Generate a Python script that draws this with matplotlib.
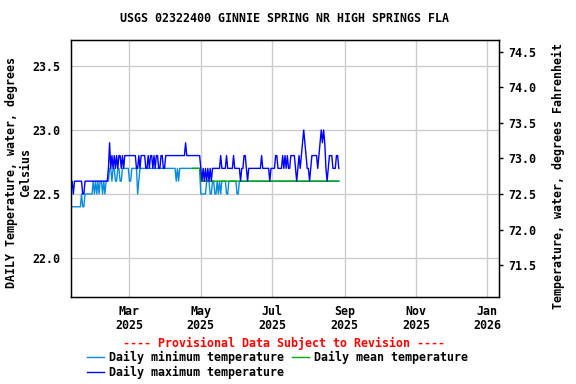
import pandas as pd
import matplotlib
matplotlib.use('Agg')
import matplotlib.pyplot as plt
import matplotlib.dates as mdates
from matplotlib.lines import Line2D

plt.rcParams['font.family'] = 'DejaVu Sans Mono'
plt.rcParams['font.weight'] = 'bold'
plt.rcParams['font.size'] = 8.4

# daily values (deg C), starting 2025-01-10
start_date = '2025-01-10'
max_t = [
    22.6, 22.6, 22.5, 22.6, 22.6, 22.6, 22.6, 22.6, 22.6, 22.6,
    22.5, 22.5, 22.6, 22.6, 22.6, 22.6, 22.6, 22.6, 22.6, 22.6,
    22.6, 22.6, 22.6, 22.6, 22.6, 22.6, 22.6, 22.6, 22.6, 22.6,
    22.6, 22.6, 22.7, 22.9, 22.7, 22.8, 22.7, 22.8, 22.7, 22.8,
    22.7, 22.8, 22.8, 22.7, 22.8, 22.7, 22.8, 22.8, 22.8, 22.8,
    22.8, 22.8, 22.8, 22.8, 22.8, 22.8, 22.7, 22.7, 22.8, 22.7,
    22.8, 22.8, 22.8, 22.8, 22.7, 22.7, 22.8, 22.7, 22.8, 22.8,
    22.7, 22.8, 22.7, 22.8, 22.8, 22.7, 22.7, 22.8, 22.8, 22.7,
    22.7, 22.8, 22.8, 22.8, 22.8, 22.8, 22.8, 22.8, 22.8, 22.8,
    22.8, 22.8, 22.8, 22.8, 22.8, 22.8, 22.8, 22.8, 22.9, 22.8,
    22.8, 22.8, 22.8, 22.8, 22.8, 22.8, 22.8, 22.8, 22.8, 22.8,
    22.8, 22.7, 22.6, 22.7, 22.6, 22.7, 22.6, 22.7, 22.6, 22.7,
    22.6, 22.7, 22.7, 22.7, 22.7, 22.7, 22.7, 22.7, 22.8, 22.7,
    22.7, 22.7, 22.7, 22.8, 22.7, 22.7, 22.7, 22.7, 22.7, 22.8,
    22.7, 22.7, 22.7, 22.7, 22.7, 22.6, 22.7, 22.7, 22.8, 22.8,
    22.7, 22.6, 22.7, 22.7, 22.7, 22.7, 22.7, 22.7, 22.7, 22.7,
    22.7, 22.7, 22.7, 22.8, 22.7, 22.7, 22.7, 22.7, 22.7, 22.7,
    22.6, 22.7, 22.7, 22.7, 22.7, 22.8, 22.8, 22.7, 22.7, 22.7,
    22.7, 22.8, 22.7, 22.8, 22.7, 22.8, 22.7, 22.7, 22.8, 22.8,
    22.8, 22.8, 22.7, 22.6, 22.7, 22.8, 22.7, 22.8, 22.9, 23.0,
    22.9, 22.8, 22.7, 22.7, 22.6, 22.7, 22.8, 22.8, 22.8, 22.8,
    22.8, 22.7, 22.8, 22.9, 23.0, 22.9, 23.0, 22.9, 22.7, 22.6,
    22.7, 22.8, 22.8, 22.8, 22.7, 22.7, 22.7, 22.8, 22.8, 22.7,
]
min_t = [
    22.4, 22.4, 22.4, 22.4, 22.4, 22.4, 22.4, 22.4, 22.4, 22.5,
    22.4, 22.4, 22.5, 22.5, 22.5, 22.5, 22.5, 22.5, 22.5, 22.6,
    22.5, 22.6, 22.5, 22.6, 22.5, 22.6, 22.6, 22.5, 22.6, 22.5,
    22.6, 22.6, 22.6, 22.7, 22.7, 22.6, 22.7, 22.7, 22.6, 22.6,
    22.7, 22.7, 22.6, 22.6, 22.7, 22.7, 22.7, 22.7, 22.7, 22.7,
    22.6, 22.6, 22.7, 22.7, 22.7, 22.7, 22.7, 22.5, 22.6, 22.7,
    22.7, 22.7, 22.7, 22.7, 22.7, 22.7, 22.7, 22.7, 22.7, 22.7,
    22.7, 22.7, 22.7, 22.7, 22.7, 22.7, 22.7, 22.7, 22.7, 22.7,
    22.7, 22.7, 22.7, 22.7, 22.7, 22.7, 22.7, 22.7, 22.7, 22.7,
    22.6, 22.7, 22.6, 22.7, 22.7, 22.7, 22.7, 22.7, 22.7, 22.7,
    22.7, 22.7, 22.7, 22.7, 22.7, 22.7, 22.7, 22.7, 22.7, 22.7,
    22.7, 22.5, 22.5, 22.5, 22.5, 22.5, 22.6, 22.6, 22.6, 22.5,
    22.5, 22.6, 22.6, 22.5, 22.5, 22.6, 22.5, 22.6, 22.5, 22.6,
    22.6, 22.6, 22.6, 22.5, 22.5, 22.6, 22.6, 22.6, 22.6, 22.6,
    22.6, 22.6, 22.5, 22.5, 22.6, 22.6, 22.6, 22.6, 22.6, 22.6,
    22.6, 22.6, 22.6, 22.6, 22.6, 22.6, 22.6, 22.6, 22.6, 22.6,
    22.6, 22.6, 22.6, 22.6, 22.6, 22.6, 22.6, 22.6, 22.6, 22.6,
    22.6, 22.6, 22.6, 22.6, 22.6, 22.6, 22.6, 22.6, 22.6, 22.6,
    22.6, 22.6, 22.6, 22.6, 22.6, 22.6, 22.6, 22.6, 22.6, 22.6,
    22.6, 22.6, 22.6, 22.6, 22.6, 22.6, 22.6, 22.6, 22.6, 22.6,
    22.6, 22.6, 22.6, 22.6, 22.6, 22.6, 22.6, 22.6, 22.6, 22.6,
    22.6, 22.6, 22.6, 22.6, 22.6, 22.6, 22.6, 22.6, 22.6, 22.6,
    22.6, 22.6, 22.6, 22.6, 22.6, 22.6, 22.6, 22.6, 22.6, 22.6,
]
# mean only reported from late April
mean_start = '2025-04-24'
mean_t = [
    22.7, 22.7, 22.7, 22.7, 22.7, 22.7, 22.7, 22.6, 22.6, 22.6,
    22.6, 22.6, 22.6, 22.6, 22.6, 22.6, 22.6, 22.6, 22.6, 22.6,
    22.6, 22.6, 22.6, 22.6, 22.6, 22.6, 22.6, 22.6, 22.6, 22.6,
    22.6, 22.6, 22.6, 22.6, 22.6, 22.6, 22.6, 22.6, 22.6, 22.6,
    22.6, 22.6, 22.6, 22.6, 22.6, 22.6, 22.6, 22.6, 22.6, 22.6,
    22.6, 22.6, 22.6, 22.6, 22.6, 22.6, 22.6, 22.6, 22.6, 22.6,
    22.6, 22.6, 22.6, 22.6, 22.6, 22.6, 22.6, 22.6, 22.6, 22.6,
    22.6, 22.6, 22.6, 22.6, 22.6, 22.6, 22.6, 22.6, 22.6, 22.6,
    22.6, 22.6, 22.6, 22.6, 22.6, 22.6, 22.6, 22.6, 22.6, 22.6,
    22.6, 22.6, 22.6, 22.6, 22.6, 22.6, 22.6, 22.6, 22.6, 22.6,
    22.6, 22.6, 22.6, 22.6, 22.6, 22.6, 22.6, 22.6, 22.6, 22.6,
    22.6, 22.6, 22.6, 22.6, 22.6, 22.6, 22.6, 22.6, 22.6, 22.6,
    22.6, 22.6, 22.6, 22.6, 22.6, 22.6,
]
c_ticks = [22.0, 22.5, 23.0, 23.5]
f_ticks = [71.5, 72.0, 72.5, 73.0, 73.5, 74.0, 74.5]

c_min_col = '#0a8cdc'
c_mean_col = '#00a800'
c_max_col = '#0000ff'

W, H = 576, 384
fig = plt.figure(figsize=(W / 100, H / 100), dpi=100)
ax = fig.add_axes([71 / W, 1 - 297 / H, 428 / W, 257 / H])

dates = pd.date_range(start_date, periods=len(max_t), freq='D')
mean_dates = pd.date_range(mean_start, periods=len(mean_t), freq='D')

ax.plot(dates, min_t, color=c_min_col, lw=1.0)
ax.plot(mean_dates, mean_t, color=c_mean_col, lw=1.0)
ax.plot(dates, max_t, color=c_max_col, lw=1.0)

ax.set_xlim(pd.Timestamp('2025-01-10'), pd.Timestamp('2026-01-11'))
ylo, yhi = 21.695, 23.703
ax.set_ylim(ylo, yhi)
ax.set_yticks(c_ticks)
ax.set_yticklabels(['%.1f' % v for v in c_ticks])
ax.xaxis.set_major_locator(mdates.MonthLocator(bymonth=[1, 3, 5, 7, 9, 11]))
ax.xaxis.set_major_formatter(mdates.DateFormatter('%b\n%Y'))
ax.grid(True, color='#cccccc', lw=1.0)
ax.set_axisbelow(True)
ax.tick_params(axis='y', length=0, pad=8)
ax.tick_params(axis='x', length=0, pad=6)
for lab in ax.get_xticklabels():
    lab.set_linespacing(1.05)
for s in ax.spines.values():
    s.set_linewidth(1.0)

ax2 = ax.twinx()
ax2.set_ylim(ylo * 1.8 + 32, yhi * 1.8 + 32)
ax2.set_yticks(f_ticks)
ax2.set_yticklabels(['%.1f' % v for v in f_ticks])
ax2.tick_params(axis='y', length=3, width=1, pad=4)

fig.text(285 / W, 1 - 19 / H, 'USGS 02322400 GINNIE SPRING NR HIGH SPRINGS FLA',
         ha='center', va='center', fontsize=8.4)
fig.text(18.7 / W, 1 - 172 / H, 'DAILY Temperature, water, degrees\nCelsius',
         rotation=90, ha='center', va='center', multialignment='center',
         linespacing=1.05)
fig.text(558 / W, 1 - 176 / H, 'Temperature, water, degrees Fahrenheit',
         rotation=90, ha='center', va='center')

fig.text(284 / W, 1 - 343 / H, '---- Provisional Data Subject to Revision ----',
         color='red', ha='center', va='center')

legend_items = [
    (86.7, 357, c_min_col, 'Daily minimum temperature'),
    (292, 357, c_mean_col, 'Daily mean temperature'),
    (86.7, 372, c_max_col, 'Daily maximum temperature'),
]
for x0, yy, col, txt in legend_items:
    fig.add_artist(Line2D([x0 / W, (x0 + 17) / W], [1 - yy / H, 1 - yy / H],
                          color=col, lw=1.0))
    fig.text((x0 + 22.5) / W, 1 - yy / H, txt, ha='left', va='center')

fig.savefig('out.png', dpi=100)
